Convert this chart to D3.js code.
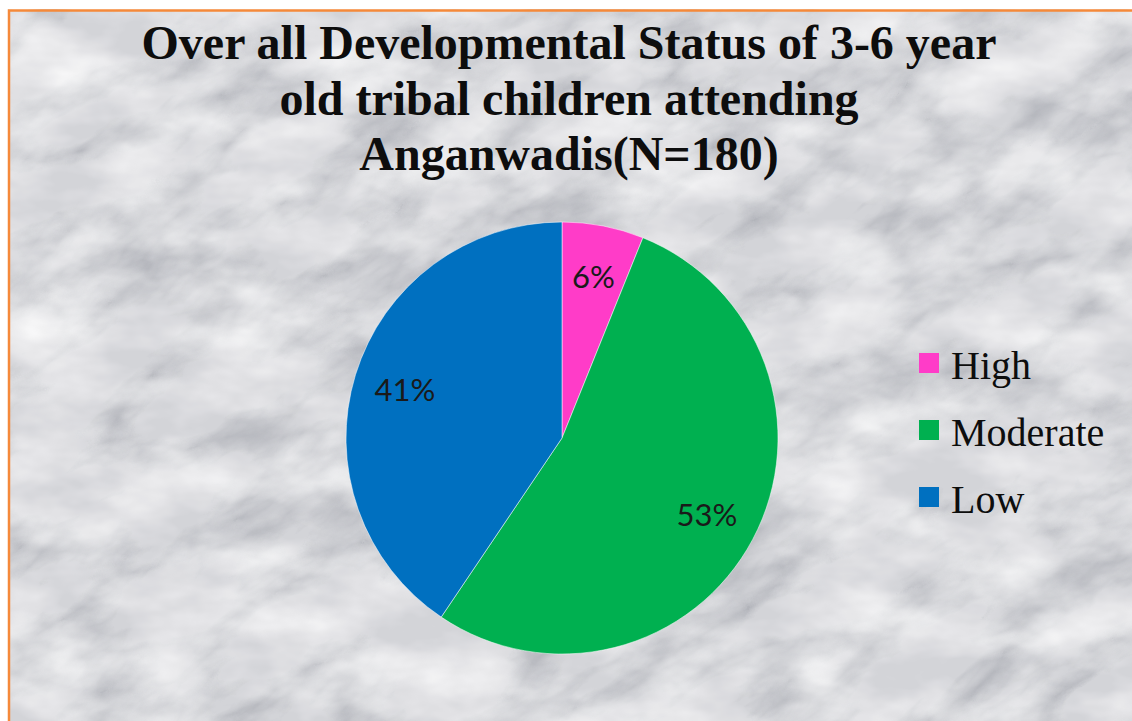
<!DOCTYPE html>
<html>
<head>
<meta charset="utf-8">
<script src="https://cdn.jsdelivr.net/npm/d3@7"></script>
<style>
body { margin: 0; background: #fff; }
svg { display: block; }
</style>
</head>
<body>
<script>
// chart data
var categories = ["High", "Moderate", "Low"];
var counts = [11, 96, 73];          // N = 180
var titleLines = ["Over all Developmental Status of 3-6 year",
                  "old tribal children attending",
                  "Anganwadis(N=180)"];

var width = 1132,
    height = 721,
    cx = 562,
    cy = 438,
    radius = 216,
    legendX = 919,
    legendY = 353,
    legendGap = 67;

var total = d3.sum(counts);
var pieData = categories.map(function(c, i) {
    return {name: c, value: counts[i], pct: Math.round(counts[i] / total * 100)};
});

var color = d3.scaleOrdinal()
    .domain(categories)
    .range(["#ff3cc8", "#00b050", "#0070c0"]);

var svg = d3.select("body").append("svg")
    .attr("width", width)
    .attr("height", height);

// marble-ish background texture
var defs = svg.append("defs");
var marble = defs.append("filter")
    .attr("id", "marble")
    .attr("x", 0).attr("y", 0).attr("width", "100%").attr("height", "100%");
marble.append("feTurbulence")
    .attr("type", "turbulence")
    .attr("baseFrequency", "0.005 0.012")
    .attr("numOctaves", 5)
    .attr("seed", 7)
    .attr("result", "t");
marble.append("feColorMatrix")
    .attr("in", "t")
    .attr("type", "matrix")
    .attr("values", "0 0 0 0 0.38  0 0 0 0 0.39  0 0 0 0 0.43  -2.4 0 0 0 0.85");

var soft = defs.append("filter")
    .attr("id", "soft")
    .attr("x", 0).attr("y", 0).attr("width", "100%").attr("height", "100%");
soft.append("feTurbulence")
    .attr("type", "fractalNoise")
    .attr("baseFrequency", "0.01 0.02")
    .attr("numOctaves", 4)
    .attr("seed", 3)
    .attr("result", "n");
soft.append("feColorMatrix")
    .attr("in", "n")
    .attr("type", "matrix")
    .attr("values", "0 0 0 0 1  0 0 0 0 1  0 0 0 0 1  1.6 0 0 0 -0.5");

var bg = svg.append("g").attr("class", "background");
bg.append("rect")
    .attr("x", 9).attr("y", 10)
    .attr("width", width).attr("height", height)
    .attr("fill", "#d3d4d8");
bg.append("g")
    .attr("transform", "rotate(-30 566 360)")
  .append("rect")
    .attr("x", -400).attr("y", -400)
    .attr("width", 2000).attr("height", 1600)
    .attr("filter", "url(#marble)")
    .attr("opacity", 0.85);
bg.append("rect")
    .attr("x", 9).attr("y", 10)
    .attr("width", width).attr("height", height)
    .attr("filter", "url(#soft)")
    .attr("opacity", 0.85);

// clip the texture to the frame
svg.append("rect")
    .attr("x", 0).attr("y", 0)
    .attr("width", width).attr("height", 9)
    .attr("fill", "#fff");
svg.append("rect")
    .attr("x", 0).attr("y", 0)
    .attr("width", 8).attr("height", height)
    .attr("fill", "#fff");
svg.append("path")
    .attr("d", "M9," + height + "V10.5H" + width)
    .attr("fill", "none")
    .attr("stroke", "#f5893a")
    .attr("stroke-width", 2.5);

// title
svg.append("g")
    .attr("class", "title")
    .selectAll("text")
    .data(titleLines)
    .enter()
    .append("text")
    .attr("x", 569)
    .attr("y", function(d, i) { return 59 + i * 55.5; })
    .attr("text-anchor", "middle")
    .attr("font-family", "'Liberation Serif', 'Times New Roman', serif")
    .attr("font-weight", "bold")
    .attr("font-size", 48)
    .attr("fill", "#0d0d0d")
    .text(function(d) { return d; });

// pie
var pie = d3.pie()
    .sort(null)
    .value(function(d) { return d.value; });

var arc = d3.arc()
    .innerRadius(0)
    .outerRadius(radius);

var labelArc = d3.arc()
    .innerRadius(radius * 0.76)
    .outerRadius(radius * 0.76);

var pieGroup = svg.append("g")
    .attr("transform", "translate(" + cx + "," + cy + ")");

pieGroup.selectAll("path")
    .data(pie(pieData))
    .enter()
    .append("path")
    .attr("d", arc)
    .attr("fill", function(d) { return color(d.data.name); })
    .attr("stroke", "#ffffff")
    .attr("stroke-opacity", 0.5)
    .attr("stroke-width", 1);

pieGroup.selectAll("text")
    .data(pie(pieData))
    .enter()
    .append("text")
    .attr("transform", function(d) { return "translate(" + labelArc.centroid(d) + ")"; })
    .attr("dy", "0.36em")
    .attr("text-anchor", "middle")
    .attr("font-family", "Lato, 'Liberation Sans', sans-serif")
    .attr("font-size", 31)
    .attr("fill", "#1a1a1a")
    .text(function(d) { return d.data.pct + "%"; });

// legend
var legend = svg.append("g")
    .attr("class", "legend")
    .attr("transform", "translate(" + legendX + "," + legendY + ")");

var item = legend.selectAll("g")
    .data(categories)
    .enter()
    .append("g")
    .attr("transform", function(d, i) { return "translate(0," + i * legendGap + ")"; });

item.append("rect")
    .attr("width", 20)
    .attr("height", 20)
    .attr("fill", function(d) { return color(d); });

item.append("text")
    .attr("x", 32)
    .attr("y", 26)
    .attr("font-family", "'Liberation Serif', 'Times New Roman', serif")
    .attr("font-size", 40)
    .attr("fill", "#0d0d0d")
    .text(function(d) { return d; });
</script>
</body>
</html>
